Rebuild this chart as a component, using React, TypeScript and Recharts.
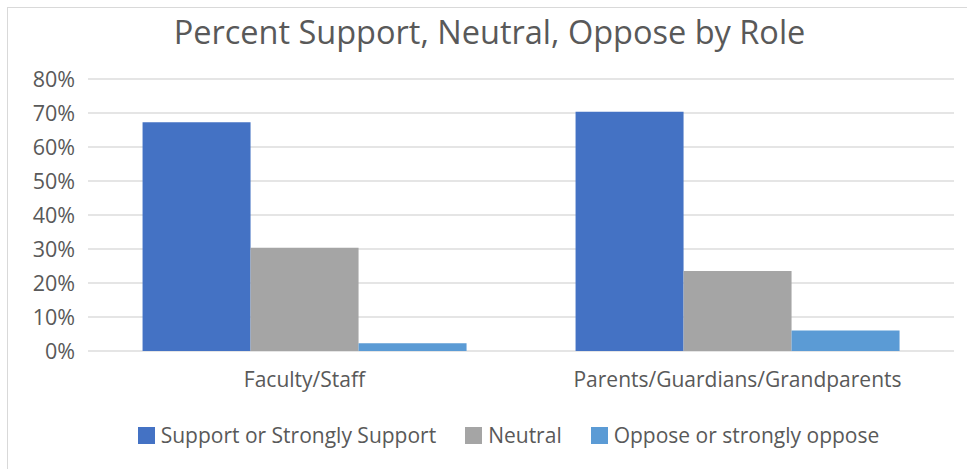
import { BarChart, Bar, XAxis, YAxis, CartesianGrid, Legend } from "recharts";

const ROLES = ["Faculty/Staff", "Parents/Guardians/Grandparents"];
const SUPPORT = [67.3, 70.4];
const NEUTRAL = [30.4, 23.5];
const OPPOSE = [2.3, 6.0];
const Y_TICKS = [0, 10, 20, 30, 40, 50, 60, 70, 80];

const SERIES = [
  { key: "support", name: "Support or Strongly Support", color: "rgb(68,114,196)" },
  { key: "neutral", name: "Neutral", color: "rgb(165,165,165)" },
  { key: "oppose", name: "Oppose or strongly oppose", color: "rgb(91,155,213)" },
];

const data = ROLES.map((role, i) => ({
  role,
  support: SUPPORT[i],
  neutral: NEUTRAL[i],
  oppose: OPPOSE[i],
}));

const FONT = "'Open Sans', sans-serif";
const TEXT = "rgb(89,89,89)";

// keep series order, legend payload comes back sorted
function LegendRow() {
  return (
    <div style={{ display: "flex", justifyContent: "center", gap: 29, fontFamily: FONT, fontSize: 21, color: TEXT }}>
      {SERIES.map((s) => (
        <div key={s.key} style={{ display: "flex", alignItems: "center" }}>
          <span style={{ width: 17, height: 17, background: s.color, marginRight: 6, display: "inline-block" }} />
          {s.name}
        </div>
      ))}
    </div>
  );
}

export default function App() {
  return (
    <div style={{ position: "absolute", left: 0, top: 0, width: 967, height: 469, background: "#fff", fontFamily: FONT }}>
      <div
        style={{
          position: "absolute",
          left: 7,
          top: 7,
          right: -2,
          bottom: -2,
          border: "1px solid rgb(217,217,217)",
        }}
      />
      <div
        style={{
          position: "absolute",
          left: 6,
          width: 967,
          top: 9,
          textAlign: "center",
          fontSize: 32.5,
          color: TEXT,
        }}
      >
        Percent Support, Neutral, Oppose by Role
      </div>
      <BarChart
        width={967}
        height={469}
        data={data}
        margin={{ top: 79, right: 13, bottom: 88, left: 0 }}
        barGap={0}
        barCategoryGap="12.6%"
      >
        <CartesianGrid vertical={false} stroke="rgb(220,220,220)" strokeWidth={1.5} />
        <XAxis
          dataKey="role"
          axisLine={false}
          tickLine={false}
          tickMargin={15}
          tick={{ fill: TEXT, fontSize: 21, fontFamily: FONT }}
        />
        <YAxis
          width={88}
          domain={[0, 80]}
          ticks={Y_TICKS}
          axisLine={false}
          tickLine={false}
          tickMargin={7}
          tickFormatter={(v: number) => `${v}%`}
          tick={{ fill: TEXT, fontSize: 21.5, fontFamily: FONT }}
        />
        <Legend
          verticalAlign="middle"
          align="center"
          content={<LegendRow />}
          wrapperStyle={{ top: 421, left: 25, width: 967 }}
        />
        {SERIES.map((s) => (
          <Bar key={s.key} dataKey={s.key} name={s.name} fill={s.color} isAnimationActive={false} />
        ))}
      </BarChart>
    </div>
  );
}
